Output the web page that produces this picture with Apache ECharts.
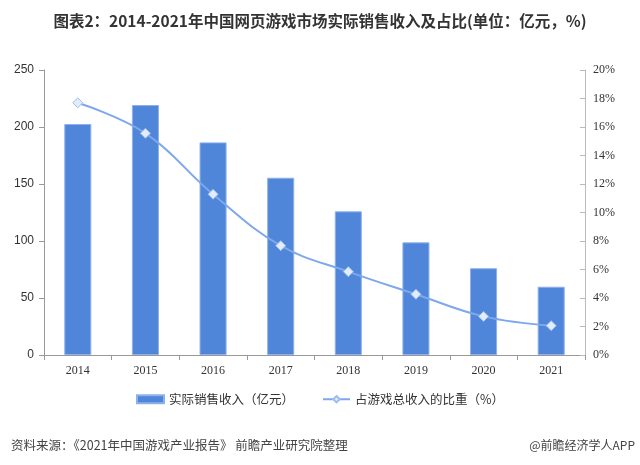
<!DOCTYPE html>
<html><head><meta charset="utf-8">
<script src="https://cdn.jsdelivr.net/npm/echarts@6/dist/echarts.min.js"></script>
<style>html,body{margin:0;padding:0;background:#fff}#c{width:640px;height:465px}</style>
</head><body><div id="c"></div>
<script>
const categories = ['2014','2015','2016','2017','2018','2019','2020','2021'];
const revenue = [202.6, 219.3, 186.5, 155.5, 126.0, 98.8, 76.1, 59.9];
const share = [17.7, 15.56, 11.28, 7.67, 5.85, 4.26, 2.71, 2.06];
const leftTicks = [0, 50, 100, 150, 200, 250];

const chart = echarts.init(document.getElementById('c'));
chart.setOption({
  animation: false,
  backgroundColor: '#fff',
  title: [{
    text: '图表2：2014-2021年中国网页游戏市场实际销售收入及占比(单位：亿元，%)',
    left: 'center', top: 8,
    textStyle: {fontFamily: 'Noto Sans CJK SC', fontSize: 15.5, fontWeight: 'bold', color: '#333'}
  }, {
    text: '资料来源：《2021年中国游戏产业报告》 前瞻产业研究院整理',
    left: 6, top: 434,
    textStyle: {fontFamily: 'Noto Sans CJK SC', fontSize: 12.5, fontWeight: 'normal', color: '#444'}
  }, {
    text: '@前瞻经济学人APP',
    right: 0, top: 434,
    textStyle: {fontFamily: 'Noto Sans CJK SC', fontSize: 12, fontWeight: 'normal', color: '#444'}
  }],
  legend: {
    top: 388, left: 'center', itemGap: 28, itemWidth: 27, itemHeight: 8,
    textStyle: {fontFamily: 'Noto Sans CJK SC', fontSize: 12.5, color: '#333'},
    data: [{name: '实际销售收入（亿元）', icon: 'rect'}, {name: '占游戏总收入的比重（%）'}]
  },
  grid: {left: 44, right: 55, top: 70, bottom: 110},
  xAxis: {
    type: 'category', data: categories,
    axisLine: {lineStyle: {color: '#999'}},
    axisTick: {show: true, alignWithLabel: false, lineStyle: {color: '#999'}},
    axisLabel: {fontFamily: 'Liberation Serif', fontSize: 12, color: '#333', margin: 10}
  },
  yAxis: [{
    type: 'value', min: 0, max: 250, interval: 50,
    axisLine: {show: true, lineStyle: {color: '#999'}},
    axisTick: {show: true, lineStyle: {color: '#999'}},
    splitLine: {show: false},
    axisLabel: {fontFamily: 'Liberation Sans', fontSize: 12, color: '#333', margin: 10}
  }, {
    type: 'value', min: 0, max: 20, interval: 2, position: 'right',
    axisLine: {show: true, lineStyle: {color: '#bbb'}},
    axisTick: {show: true, inside: true, lineStyle: {color: '#bbb'}},
    splitLine: {show: false},
    axisLabel: {fontFamily: 'Liberation Serif', fontSize: 12, color: '#333', margin: 8, formatter: '{value}%'}
  }],
  series: [{
    name: '实际销售收入（亿元）', type: 'bar', data: revenue, barWidth: '40%',
    itemStyle: {color: '#4F86DA', borderColor: '#8fb0ea', borderWidth: 1}
  }, {
    name: '占游戏总收入的比重（%）', type: 'line', yAxisIndex: 1, data: share, smooth: 0.4,
    symbol: 'diamond', symbolSize: 10,
    lineStyle: {color: '#7EA8EC', width: 2},
    itemStyle: {color: '#E3ECFA', borderColor: '#9dbcef', borderWidth: 1}
  }]
});
</script></body></html>
